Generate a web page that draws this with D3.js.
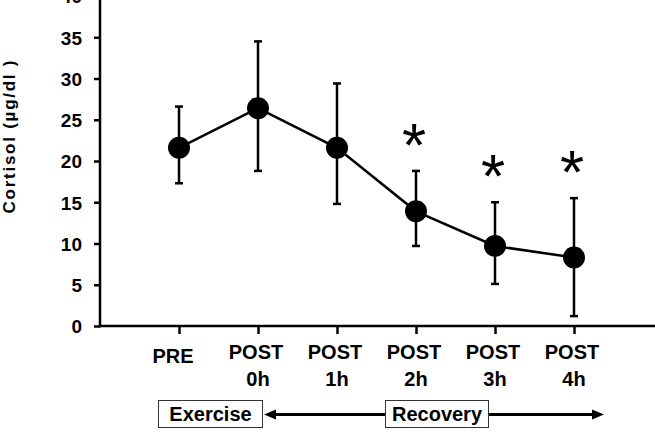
<!DOCTYPE html>
<html><head><meta charset="utf-8">
<script src="https://cdn.jsdelivr.net/npm/d3@7"></script>
<style>
html,body{margin:0;padding:0;background:#fff;}
svg{display:block;}
text{font-family:"Liberation Sans",Arial,sans-serif;}
</style></head>
<body>
<svg id="chart" width="655" height="434"></svg>
<script>
const categories = ["PRE","POST 0h","POST 1h","POST 2h","POST 3h","POST 4h"];
const labelLine1 = ["PRE","POST","POST","POST","POST","POST"];
const labelLine2 = ["","0h","1h","2h","3h","4h"];
const meanValues = [21.6, 26.4, 21.6, 13.9, 9.7, 8.3];
const errUpper   = [26.6, 34.5, 29.4, 18.8, 15.0, 15.5];
const errLower   = [17.3, 18.8, 14.8, 9.7, 5.1, 1.2];
const significant = [false, false, false, true, true, true];
const yTicks = [0,5,10,15,20,25,30,35,40];
const yTitle = "Cortisol (µg/dl )";

const svg = d3.select("#chart");
const x = d3.scalePoint().domain(categories).range([179, 574]);
const y = d3.scaleLinear().domain([0, 40]).range([326, -4]);
const X0 = 100;

// Y axis
const yAxis = d3.axisLeft(y).tickValues(yTicks).tickSize(6).tickPadding(12);
const gy = svg.append("g").attr("transform", `translate(${X0},0)`).call(yAxis);
gy.select(".domain").remove();
gy.selectAll(".tick line").attr("stroke","#000").attr("stroke-width",2.5);
gy.selectAll(".tick text").attr("fill","#000").attr("font-size",19).attr("font-weight","bold")
  .attr("dy","0.36em");
svg.append("line").attr("x1",X0).attr("x2",X0).attr("y1",0).attr("y2",y(0)+1.2)
  .attr("stroke","#000").attr("stroke-width",2.5);

// X axis
const xAxis = d3.axisBottom(x).tickSize(8).tickFormat("");
const gx = svg.append("g").attr("transform", `translate(0,${y(0)})`).call(xAxis);
gx.select(".domain").remove();
gx.selectAll(".tick line").attr("stroke","#000").attr("stroke-width",2.5);
svg.append("line").attr("x1",X0-1.2).attr("x2",655).attr("y1",y(0)).attr("y2",y(0))
  .attr("stroke","#000").attr("stroke-width",2.5);

// X labels
const lab = svg.append("g").attr("font-size",20).attr("font-weight","bold").attr("text-anchor","middle");
categories.forEach((c,i)=>{
  if (labelLine2[i]==="") {
    lab.append("text").attr("x",x(c)-6).attr("y",363).text(labelLine1[i]);
  } else {
    lab.append("text").attr("x",x(c)-2).attr("y",359).text(labelLine1[i]);
    lab.append("text").attr("x",x(c)).attr("y",386).text(labelLine2[i]);
  }
});

// Y title
svg.append("text").attr("transform","translate(15,137) rotate(-90)")
  .attr("text-anchor","middle").attr("font-size",17).attr("font-weight","bold")
  .attr("textLength",153).attr("lengthAdjust","spacing").text(yTitle);

// Error bars
const eb = svg.append("g").attr("stroke","#000").attr("stroke-width",2.5);
categories.forEach((c,i)=>{
  eb.append("line").attr("x1",x(c)).attr("x2",x(c)).attr("y1",y(errUpper[i])).attr("y2",y(errLower[i]));
  [errUpper[i], errLower[i]].forEach(v=>{
    eb.append("line").attr("x1",x(c)-4).attr("x2",x(c)+4).attr("y1",y(v)).attr("y2",y(v));
  });
});

// Line
const line = d3.line().x((d,i)=>x(categories[i])).y(d=>y(d));
svg.append("path").datum(meanValues).attr("d",line).attr("fill","none")
  .attr("stroke","#000").attr("stroke-width",2.5);

// Points
svg.append("g").selectAll("circle").data(meanValues).join("circle")
  .attr("cx",(d,i)=>x(categories[i])).attr("cy",d=>y(d)).attr("r",11).attr("fill","#000");

// Asterisks
svg.append("g").selectAll("text").data(meanValues.map((d,i)=>({i,up:errUpper[i]})).filter(d=>significant[d.i]))
  .join("text")
  .attr("x",d=>x(categories[d.i])-2)
  .attr("y",d=>y(d.up)-5)
  .attr("text-anchor","middle")
  .attr("font-family","'Liberation Serif','Times New Roman',serif")
  .attr("font-size",62).text("*");

// Bottom annotation
const ann = svg.append("g");
ann.append("rect").attr("x",158.5).attr("y",400.5).attr("width",104).attr("height",27)
  .attr("fill","#fff").attr("stroke","#333").attr("stroke-width",1);
ann.append("rect").attr("x",385.5).attr("y",400.5).attr("width",103).attr("height",27)
  .attr("fill","#fff").attr("stroke","#333").attr("stroke-width",1);
ann.append("text").attr("x",210.5).attr("y",421).attr("text-anchor","middle")
  .attr("font-size",20).attr("font-weight","bold").text("Exercise");
ann.append("text").attr("x",437).attr("y",421).attr("text-anchor","middle")
  .attr("font-size",20).attr("font-weight","bold").text("Recovery");
ann.append("line").attr("x1",272).attr("x2",385).attr("y1",414.5).attr("y2",414.5)
  .attr("stroke","#000").attr("stroke-width",3);
ann.append("line").attr("x1",489).attr("x2",594).attr("y1",414.5).attr("y2",414.5)
  .attr("stroke","#000").attr("stroke-width",3);
ann.append("path").attr("d","M264,414.5 L276,409.5 L276,419.5 Z").attr("fill","#000");
ann.append("path").attr("d","M604,414.5 L592,409.5 L592,419.5 Z").attr("fill","#000");
</script>
</body></html>
